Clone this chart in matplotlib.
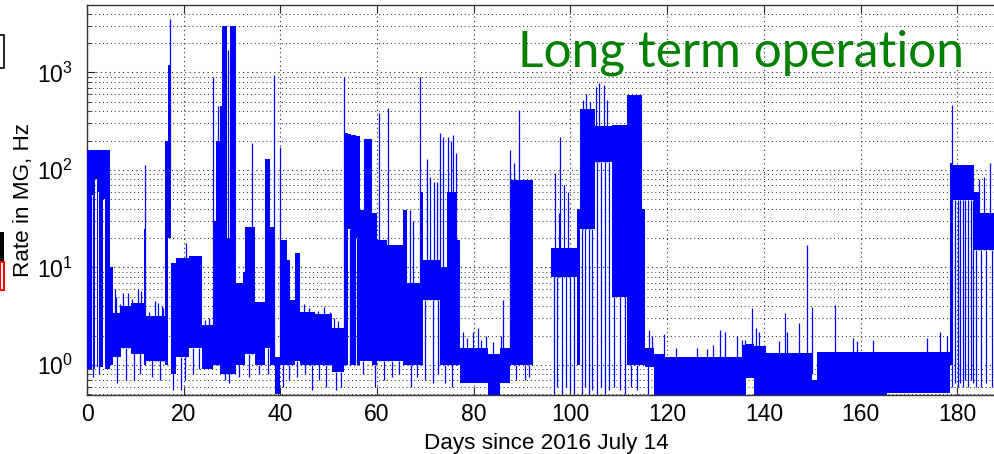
import numpy as np
import matplotlib
matplotlib.use("Agg")
import matplotlib.pyplot as plt
from matplotlib.patches import Rectangle
from matplotlib.ticker import LogLocator, NullFormatter, FixedLocator

# ---------------- data ----------------
# dense bands: start day, end day, lower rate, upper rate (Hz)
seg_start = [0.00, 0.95, 1.50, 1.75, 2.05, 2.35, 2.75, 3.40, 3.75, 4.80, 5.30, 7.00, 9.00, 11.70,
             12.20, 16.20, 16.80, 17.40, 18.50, 21.20, 23.80, 26.00, 26.60, 27.50, 28.00, 28.90,
             29.60, 30.90, 32.30, 32.70, 34.70, 36.80, 37.90, 38.80, 39.90, 41.30, 42.00, 43.00,
             44.10, 47.20, 50.60, 53.20, 54.00, 54.60, 55.60, 56.00, 56.50, 57.20, 58.90, 60.00,
             62.00, 65.40, 66.20, 68.90, 69.50, 73.00, 74.40, 76.50, 77.10, 83.00, 85.50, 87.50,
             96.00, 101.30, 102.00, 105.00, 108.50, 111.60, 114.70,
             115.50, 117.30, 119.50, 135.50, 136.30, 138.00, 140.50, 149.90, 150.90, 165.50,
             178.50, 179.20, 183.50, 184.60]
seg_end = [0.95, 1.50, 1.75, 2.05, 2.35, 2.75, 3.40, 3.75, 4.80, 5.30, 7.00, 9.00, 11.70, 12.20,
           16.20, 16.80, 17.40, 18.50, 21.20, 23.80, 26.00, 26.60, 27.50, 28.00, 28.90, 29.60,
           30.90, 32.30, 32.70, 34.70, 36.80, 37.90, 38.70, 39.90, 41.30, 42.00, 43.00, 44.10,
           47.20, 50.60, 53.20, 54.00, 54.60, 55.60, 56.00, 56.50, 57.20, 58.90, 60.00, 62.00,
           65.40, 66.20, 68.80, 69.50, 73.00, 74.40, 76.50, 77.10, 83.00, 85.50, 87.50, 92.20,
           101.30, 102.00, 105.00, 108.50, 111.60, 114.70, 115.50,
           117.30, 119.50, 135.50, 136.30, 138.00, 140.50, 149.90, 150.90, 165.50, 178.50,
           179.20, 183.50, 184.60, 190.00]
seg_low = [0.9, 55, 0.9, 80, 0.95, 60, 0.95, 50, 0.9, 1.0, 1.2, 1.5, 1.3, 1.0,
           1.1, 1.0, 20, 0.8, 1.2, 1.5, 0.9, 1.0, 1.0, 0.8, 0.8, 0.8,
           0.8, 1.0, 1.0, 1.3, 1.0, 1.5, 1.0, 0.5, 1.0, 1.0, 1.0, 1.1,
           1.0, 1.0, 0.85, 1.0, 25, 1.0, 20, 1.0, 1.1, 1.1, 1.0, 1.1,
           1.1, 1.0, 1.0, 1.0, 4.6, 1.0, 1.0, 1.0, 0.65, 0.45, 0.65, 1.0,
           8, 1.0, 25, 120, 5, 1.0, 1.0,
           0.95, 0.45, 0.45, 0.45, 0.73, 0.45, 0.45, 0.45, 0.45, 0.52,
           1.0, 49, 15, 15]
seg_high = [160, 160, 160, 160, 160, 160, 160, 160, 160, 10, 3.4, 4.0, 4.3, 25,
            3.2, 200, 1200, 11, 12.5, 13, 2.6, 30, 200, 450, 3000, 20,
            3000, 7, 9, 26, 4.4, 130, 26, 1.2, 19, 12, 4.6, 14,
            3.5, 3.3, 2.4, 240, 235, 230, 225, 225, 39, 210, 36, 19,
            17, 39, 7, 60, 12, 10, 60, 19, 1.5, 1.3, 1.5, 79,
            16, 40, 420, 280, 290, 590, 40,
            1.5, 1.3, 1.2, 1.6, 1.65, 1.55, 1.33, 0.7, 1.37, 1.37,
            117, 113, 60, 36]

# single excursions: day, lower rate, upper rate (Hz)
spike_day = [5.8, 6.0, 6.8, 7.5, 8.5, 9.3, 10.5, 11.2, 12.0, 12.8, 14.0, 14.6, 15.5, 15.8,
             17.1, 20.5, 24.5, 25.3, 26.15, 27.15, 29.2, 34.2, 38.75, 39.95,
             44.8, 46.0, 47.8, 49.0, 50.2, 51.0, 52.0,
             53.25, 60.4, 62.2, 66.8, 67.5, 68.95, 70.3, 71.0, 71.8, 72.4, 73.1, 73.7, 74.6,
             75.2, 75.8, 76.3, 77.8, 78.5, 79.8, 80.8, 81.5, 82.5, 84.0, 85.6, 86.1,
             87.5, 88.3, 89.3, 96.9, 97.7, 97.9, 98.6, 99.5, 102.5, 103.3, 104.0,
             105.3, 106.0, 107.0, 107.6, 116.3, 116.9, 119.3, 121.9, 126.1, 128.2, 129.5,
             130.9, 132.0, 134.4, 135.5, 136.2, 137.5, 138.3, 139.0, 143.2, 144.4, 144.7,
             147.3, 148.9, 149.9, 154.8, 158.5, 159.2, 162.5, 173.7, 176.4, 177.8,
             178.9, 184.5, 185.5, 186.7]
spike_low = [1.5, 1.5, 1.5, 1.5, 1.5, 1.5, 1.5, 1.5, 1.0, 1.1, 1.1, 1.1, 1.1, 1.1,
             100, 1.2, 1.0, 1.0, 1.0, 1.0, 20, 1.3, 1.0, 1.0,
             1.0, 1.0, 1.0, 1.0, 1.0, 1.0, 1.0,
             1.0, 1.1, 1.1, 1.0, 1.0, 1.0, 4.6, 4.6, 4.6, 4.6, 1.0, 1.0, 1.0,
             1.0, 1.0, 1.0, 1.0, 1.0, 1.0, 1.0, 1.0, 1.0, 1.0, 1.0, 1.0,
             1.0, 1.0, 1.0, 8, 8, 8, 8, 8, 25, 25, 25,
             120, 120, 120, 120, 1.0, 1.0, 0.8, 0.8, 0.8, 0.8, 0.8,
             0.8, 0.8, 0.8, 0.8, 0.8, 0.8, 0.8, 0.8, 0.8, 0.8, 0.8,
             0.8, 0.8, 0.8, 0.8, 0.8, 0.8, 0.8, 0.8, 0.8, 0.8,
             1.0, 15, 15, 15]
spike_high = [6.0, 5.0, 4.2, 5.5, 5.5, 4.8, 6.0, 5.8, 112, 3.5, 4.5, 4.3, 4.0, 3.8,
              3500, 18, 2.9, 3.0, 900, 450, 1700, 190, 950, 170,
              4.2, 3.8, 3.6, 3.9, 3.5, 3.0, 2.8,
              900, 380, 430, 39, 30, 900, 130, 85, 75, 75, 240, 220, 220,
              200, 230, 150, 2.2, 1.9, 2.2, 2.4, 1.8, 2.0, 1.7, 2.0, 4.6,
              160, 118, 410, 93, 36, 218, 70, 60, 520, 600, 500,
              710, 780, 750, 520, 2.3, 2.0, 2.1, 1.5, 1.5, 1.45, 1.6,
              2.3, 2.2, 2.0, 1.8, 1.8, 3.8, 2.4, 2.2, 1.75, 3.4, 2.2,
              2.7, 17, 3.9, 4.1, 1.9, 1.75, 1.8, 1.9, 2.2, 2.0,
              460, 80, 85, 118]

# downward dips: day, lower rate, upper rate (Hz)
dip_day = [1.2, 2.55, 6.3, 8.0, 9.7, 11.0, 13.5, 15.0, 17.8, 19.5, 20.3, 22.0, 23.2, 28.5,
           29.3, 31.5, 33.5, 35.5, 37.5, 40.5, 41.8, 43.5, 45.0, 46.5, 48.0, 49.5, 51.5,
           52.5, 54.3, 55.8, 57.0, 59.5, 61.5, 63.0, 64.5, 67.0, 68.3, 70.0, 71.5, 72.7,
           74.0, 75.5, 88.8, 90.5, 91.5, 96.5, 97.3, 98.3, 99.0, 99.9, 100.7, 102.3, 103.0,
           103.8, 104.5, 105.5, 106.3, 107.2, 108.0, 109.0, 110.2, 111.2, 112.5, 113.8,
           116.0, 179.0, 179.6, 180.1, 180.6, 181.2, 181.7, 182.2, 182.8, 183.3, 183.8,
           185.0, 186.0, 187.2]
dip_low = [0.75, 0.8, 0.65, 0.7, 0.7, 0.8, 0.75, 0.7, 0.55, 0.55, 0.7, 0.8, 0.9, 0.7,
           0.65, 0.75, 0.75, 0.8, 0.8, 0.6, 0.7, 0.75, 0.8, 0.55, 0.7, 0.6, 0.55,
           0.6, 1.0, 1.0, 0.8, 0.6, 0.7, 0.75, 0.8, 0.6, 0.75, 0.7, 0.65, 0.8,
           0.65, 0.6, 0.7, 0.7, 0.75, 0.5, 0.6, 0.5, 0.6, 0.55, 0.5, 0.5, 0.6,
           0.5, 0.55, 0.5, 0.6, 0.5, 0.55, 0.6, 0.55, 0.5, 0.6, 0.55,
           0.5, 0.6, 0.65, 0.6, 0.65, 0.6, 0.7, 0.6, 0.7, 0.65, 0.6,
           0.6, 0.65, 0.6]
dip_high = [55, 60, 1.5, 1.5, 1.5, 1.5, 1.2, 1.2, 1.0, 1.2, 1.2, 1.5, 1.5, 20,
            20, 1.0, 1.3, 1.0, 1.5, 1.0, 1.0, 1.1, 1.0, 1.0, 1.0, 1.0, 0.85,
            0.85, 25, 20, 1.1, 1.0, 1.1, 1.1, 1.1, 1.0, 1.0, 4.6, 4.6, 4.6,
            1.0, 1.0, 1.0, 1.0, 1.0, 8, 8, 8, 8, 8, 8, 25, 25,
            25, 25, 120, 120, 120, 120, 5, 5, 5, 1.0, 1.0,
            1.0, 1.0, 49, 49, 49, 49, 49, 49, 49, 49, 15,
            15, 15, 15]

x_ticks = [0, 20, 40, 60, 80, 100, 120, 140, 160, 180]
title_text = "Long term operation"
x_label = "Days since 2016 July 14"
y_label = "Rate in MG, Hz"

# ---------------- figure ----------------
plt.rcParams['font.family'] = ['Liberation Sans', 'DejaVu Sans']
plt.rcParams['mathtext.fontset'] = 'custom'
plt.rcParams['mathtext.rm'] = 'Liberation Sans'

fig = plt.figure(figsize=(9.95, 4.54), dpi=100)
ax = fig.add_axes([87 / 995, 59 / 454, 918.6 / 995, 390 / 454])
ax.set_yscale('log')
ax.set_xlim(0, 190)
ax.set_ylim(0.492, 4920)

blue = '#0000ff'
ax.bar(seg_start, np.subtract(seg_high, seg_low), width=np.subtract(seg_end, seg_start),
       bottom=seg_low, align='edge', color=blue, linewidth=0, zorder=3)
ax.vlines(spike_day, spike_low, spike_high, color=blue, lw=0.9, zorder=3)
ax.vlines(dip_day, dip_low, dip_high, color=blue, lw=0.9, zorder=3)

# grid like MATLAB dotted grid
ax.xaxis.set_major_locator(FixedLocator(x_ticks))
ax.yaxis.set_major_locator(LogLocator(base=10, numticks=10))
ax.yaxis.set_minor_locator(LogLocator(base=10, subs=np.arange(2, 10), numticks=20))
ax.yaxis.set_minor_formatter(NullFormatter())
ax.grid(True, which='major', axis='both', linestyle=(0, (1, 3)), color='#222222', lw=0.8, zorder=0)
ax.grid(True, which='minor', axis='y', linestyle=(0, (1, 3)), color='#222222', lw=0.7, zorder=0)
ax.set_axisbelow(True)

ax.tick_params(which='both', direction='in', top=True, right=True, colors='#262626',
               labelcolor='black', labelsize=16.5)
ax.tick_params(which='major', length=6, width=0.8)
ax.tick_params(which='minor', length=3, width=0.6)
ax.tick_params(axis='x', pad=6)
ax.tick_params(axis='y', pad=10)
for s in ax.spines.values():
    s.set_color('#333333')
    s.set_linewidth(1.0)

ax.set_xlabel(x_label, fontsize=16.2, labelpad=5)
ax.set_ylabel(y_label, fontsize=16.2, labelpad=2)

fig.text(518 / 995, 1 - 66 / 454, title_text, color='#008000', fontsize=35.7,
         family=['Lato', 'DejaVu Sans'], ha='left', va='baseline')

# remnants of the neighbouring figure at the left edge
fig.patches.append(Rectangle((-0.005, 1 - 68 / 454), 0.009, 33 / 454, transform=fig.transFigure,
                             fill=False, edgecolor='black', lw=1.2))
fig.patches.append(Rectangle((0.0, 1 - 262 / 454), 0.004, 30 / 454, transform=fig.transFigure,
                             color='black', lw=0))
fig.patches.append(Rectangle((0.0, 1 - 290 / 454), 0.004, 28 / 454, transform=fig.transFigure,
                             fill=False, edgecolor='red', lw=1.5))

fig.savefig('out.png', dpi=100)
